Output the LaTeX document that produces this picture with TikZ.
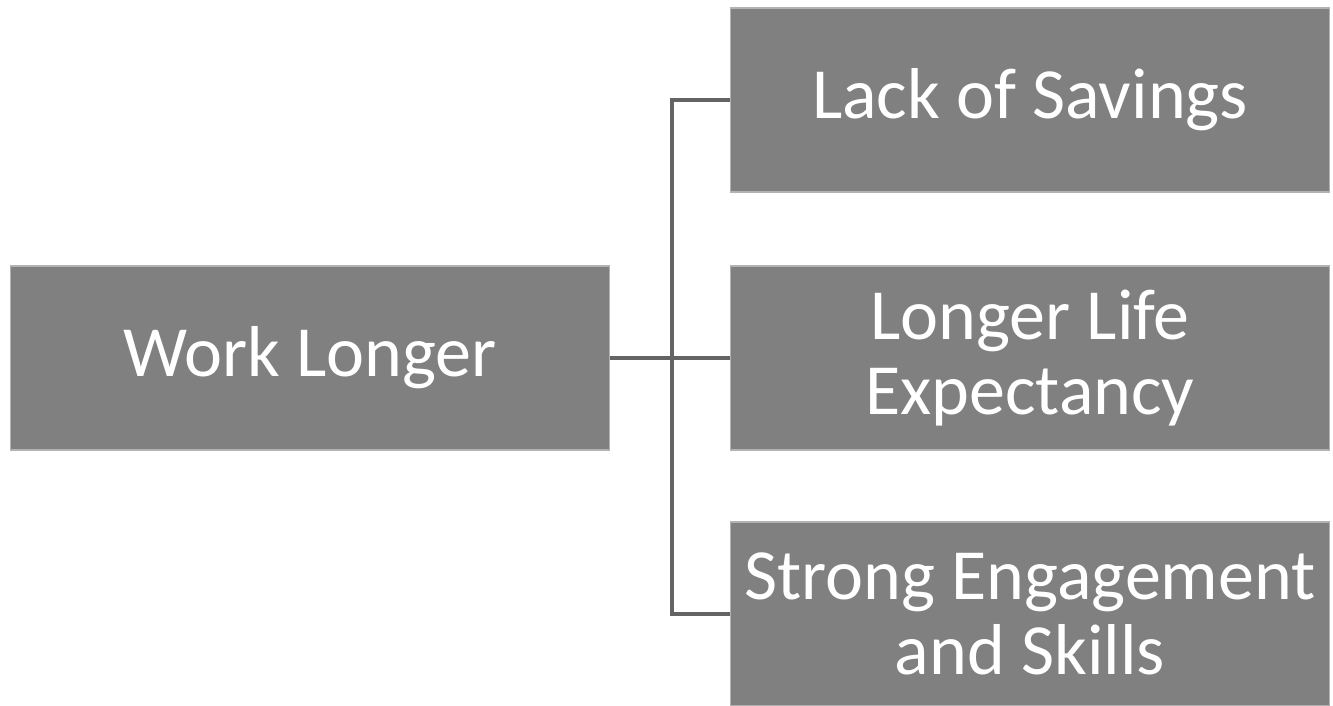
\documentclass[tikz,border=0pt]{standalone}
\usepackage{fontspec}
\setmainfont{Carlito}
\usetikzlibrary{positioning}

\definecolor{boxgray}{RGB}{128,128,128}
\definecolor{linegray}{RGB}{100,100,100}

\begin{document}
\begin{tikzpicture}[x=0.02cm, y=-0.02cm]
			\tikzstyle{Box}  = [rectangle, fill=boxgray, draw=gray!60, line width=0.6pt, minimum width=12cm, minimum height=3.68cm, inner sep=0pt, align=center, text=white, font=\fontsize{41}{43}\selectfont]
			\tikzstyle{Link} = [linegray, line width=2.2pt]

			\useasboundingbox (0,0) rectangle (1333,706);

			\node (work)    at (310, 358) [Box] {Work Longer};
			\node (savings) at (1030, 100) [Box] {Lack of Savings};
			\node (life)    at (1030, 358) [Box] {Longer Life\\Expectancy};
			\node (skills)  at (1030, 614) [Box] {Strong Engagement\\and Skills};

			\coordinate (joint) at (672, 358);

			\draw [Link] (work.east) -- (life.west);
			\draw [Link] (joint) |- (savings.west);
			\draw [Link] (joint) |- (skills.west);
		\end{tikzpicture}
\end{document}
